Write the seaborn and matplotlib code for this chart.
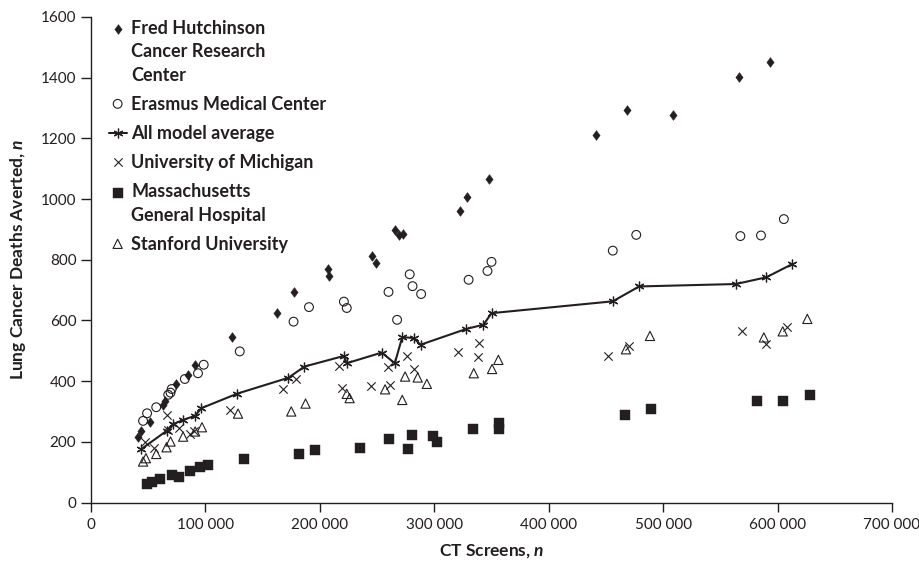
import matplotlib
matplotlib.use("Agg")
import matplotlib.pyplot as plt
import seaborn as sns
from matplotlib.legend_handler import HandlerPathCollection

# =========================
# DATA
# =========================
fred_x = [41000, 44000, 51500, 63000, 65000, 74500, 85000, 91000, 123500, 162500,
          177500, 207500, 208000, 246000, 249500, 266000, 269000, 273000, 322500,
          328500, 348000, 441000, 468000, 509000, 566000, 593000]
fred_y = [215, 235, 265, 322, 333, 390, 420, 452, 547, 624, 693, 770, 745, 813, 788,
          899, 883, 885, 961, 1007, 1067, 1210, 1295, 1276, 1402, 1451]

erasmus_x = [45500, 49000, 57000, 67500, 69500, 70500, 82000, 93500, 98500, 130000,
             177000, 190500, 221000, 223500, 260000, 267500, 278500, 281000, 288500,
             330000, 346500, 350000, 456000, 476500, 567500, 585500, 605500]
erasmus_y = [269, 294, 314, 355, 362, 374, 407, 426, 454, 498, 596, 644, 662, 641, 694,
             602, 752, 713, 687, 734, 763, 793, 830, 882, 878, 880, 934]

avg_x = [44000, 66000, 71500, 80500, 91000, 96500, 128000, 172500, 186500, 221000,
         223500, 254000, 265500, 272000, 282000, 288000, 328000, 343000, 350000,
         456000, 479000, 563500, 590000, 613000]
avg_y = [176, 236, 258, 272, 286, 311, 359, 411, 448, 483, 459, 494, 459, 545, 542,
         520, 572, 586, 624, 663, 712, 720, 742, 786]

mich_x = [47000, 55000, 66500, 67500, 77000, 86500, 90000, 121500, 167500, 179000,
          217000, 219000, 245000, 259500, 261500, 276500, 282000, 321000, 338500,
          339500, 452000, 470500, 568500, 589500, 608000]
mich_y = [200, 180, 289, 239, 245, 225, 237, 306, 373, 406, 450, 377, 384, 446, 388,
          483, 440, 496, 481, 525, 483, 517, 564, 523, 578]

mgh_x = [49000, 53000, 60500, 71000, 77000, 86500, 95000, 102500, 134000, 181500,
         196000, 235000, 260500, 277000, 280500, 299000, 302000, 334000, 356500,
         356500, 466500, 489500, 582000, 604500, 628000]
mgh_y = [62, 66, 77, 91, 85, 104, 116, 123, 142, 159, 172, 179, 208, 175, 223, 219,
         199, 242, 263, 241, 289, 307, 334, 334, 354]

stan_x = [45500, 48000, 57000, 66000, 69500, 80500, 91000, 97000, 128500, 175000,
          187500, 223500, 226000, 257000, 272000, 274500, 285500, 293500, 334500,
          350500, 356000, 467500, 488500, 588000, 604500, 626000]
stan_y = [135, 146, 160, 182, 201, 217, 234, 248, 293, 300, 326, 358, 344, 373, 338,
          415, 412, 391, 426, 440, 470, 505, 549, 544, 564, 605]

labels = ["Fred Hutchinson\nCancer Research\nCenter",
          "Erasmus Medical Center",
          "All model average",
          "University of Michigan",
          "Massachusetts\nGeneral Hospital",
          "Stanford University"]

x_ticks = [0, 100000, 200000, 300000, 400000, 500000, 600000, 700000]
x_tick_labels = ["0", "100 000", "200 000", "300 000", "400 000", "500 000",
                 "600 000", "700 000"]
y_ticks = [0, 200, 400, 600, 800, 1000, 1200, 1400, 1600]

# =========================
# STYLE
# =========================
sns.set_theme(style="ticks")
plt.rcParams["font.family"] = ["Lato", "DejaVu Sans"]
plt.rcParams["mathtext.fontset"] = "custom"
plt.rcParams["mathtext.it"] = "Lato:italic:bold"
plt.rcParams["mathtext.rm"] = "Lato:bold"

INK = "#231f20"
diamond = [(0, 1), (0.75, 0), (0, -1), (-0.75, 0), (0, 1)]

fig = plt.figure(figsize=(9.19, 5.78), dpi=100)
ax = fig.add_axes([91 / 919, 1 - 502.5 / 578, 801 / 919, 485.5 / 578])

sns.scatterplot(x=fred_x, y=fred_y, ax=ax, marker=diamond, s=50,
                color=INK, edgecolor=INK, linewidth=0.3, label=labels[0])
sns.scatterplot(x=erasmus_x, y=erasmus_y, ax=ax, marker="o", s=40,
                facecolors="none", edgecolor=INK, linewidth=0.8, label=labels[1])
sns.lineplot(x=avg_x, y=avg_y, ax=ax, color=INK, linewidth=1.5,
             marker=(6, 2, 0), markersize=7, markeredgewidth=0.9,
             markeredgecolor=INK, estimator=None, label=labels[2])
sns.scatterplot(x=mich_x, y=mich_y, ax=ax, marker="x", s=36,
                color=INK, linewidth=0.8, label=labels[3])
sns.scatterplot(x=mgh_x, y=mgh_y, ax=ax, marker="s", s=45,
                color=INK, edgecolor=INK, linewidth=0.3, label=labels[4])
sns.scatterplot(x=stan_x, y=stan_y, ax=ax, marker="^", s=44,
                facecolors="none", edgecolor=INK, linewidth=0.8, label=labels[5])

# axes
ax.set_xlim(0, 700000)
ax.set_ylim(0, 1600)
ax.set_xticks(x_ticks)
ax.set_xticklabels(x_tick_labels)
ax.set_yticks(y_ticks)
for side in ["top", "right"]:
    ax.spines[side].set_visible(False)
for side in ["left", "bottom"]:
    ax.spines[side].set_color(INK)
    ax.spines[side].set_linewidth(1.0)
ax.tick_params(axis="both", direction="out", colors=INK, width=1.0,
               labelsize=11, labelcolor=INK)
ax.tick_params(axis="y", length=7.5, pad=3)
ax.tick_params(axis="x", length=6.5, pad=5)

ax.set_xlabel(r"CT Screens, $\mathit{n}$", fontsize=12.5, fontweight="bold",
              color=INK, labelpad=7)
ax.set_ylabel(r"Lung Cancer Deaths Averted, $\mathit{n}$", fontsize=12.5,
              fontweight="bold", color=INK, labelpad=9)

# legend in reference order, marker aligned with first label line
handles, lbls = ax.get_legend_handles_labels()
lookup = dict(zip(lbls, handles))
ordered = [lookup[l] for l in labels]
fs = 13
hh = 0.7 * fs
line_h = 16.8
hmap = {
    ordered[0]: HandlerPathCollection(yoffsets=[0.5 + line_h / hh]),
    ordered[4]: HandlerPathCollection(yoffsets=[0.5 + 0.5 * line_h / hh]),
}
leg = ax.legend(ordered, labels, loc="upper left", bbox_to_anchor=(0.022, 0.994),
                frameon=False, prop={"weight": "bold", "size": fs},
                handlelength=1.0, handletextpad=0.25, labelspacing=0.67,
                borderaxespad=0, borderpad=0, scatterpoints=1,
                scatteryoffsets=[0.5], handler_map=hmap)
for t in leg.get_texts():
    t.set_color(INK)
    t.set_linespacing(1.47)

fig.savefig("out.png", dpi=100)
